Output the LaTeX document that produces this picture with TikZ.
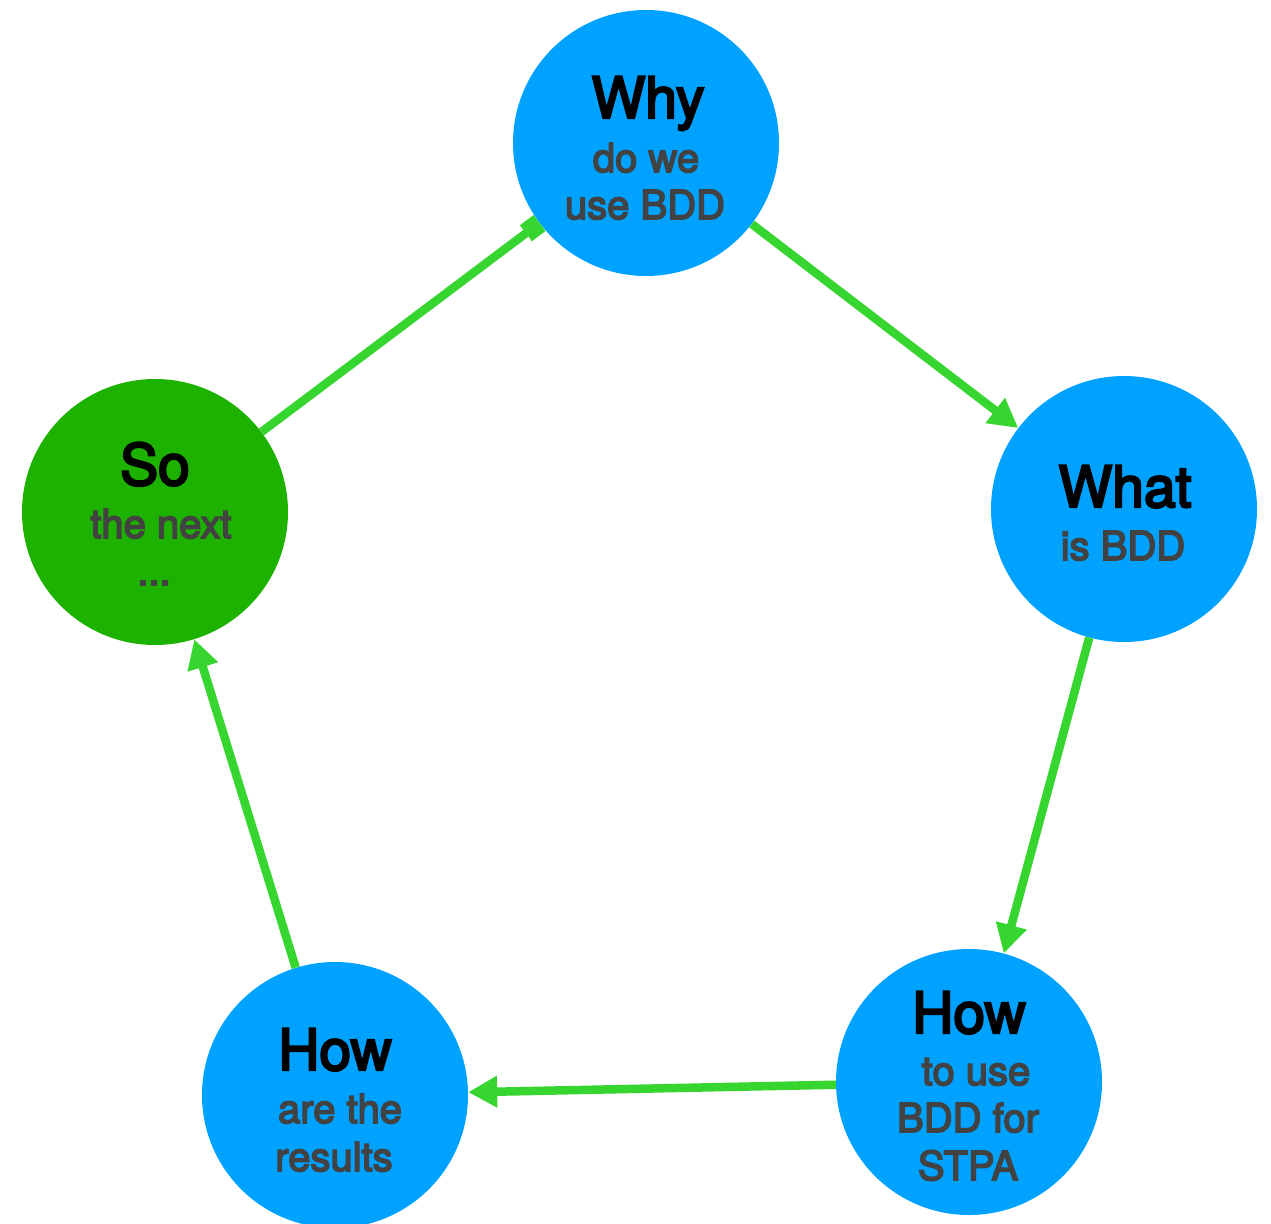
\documentclass[tikz,border=0pt]{standalone}
\usepackage{fontspec}
\setmainfont{TeX Gyre Heros}
\newfontfamily\titleface{TeX Gyre Heros}[FakeBold=4]
\newfontfamily\subface{TeX Gyre Heros}[FakeBold=4]
\usetikzlibrary{arrows.meta}
\definecolor{bubble}{HTML}{00A2FF}
\definecolor{nextgreen}{HTML}{1DB100}
\definecolor{linkgreen}{HTML}{36D52F}
\definecolor{subgray}{HTML}{424242}
\begin{document}
\begin{tikzpicture}[x=1pt,y=-1pt,
  topic/.style={circle, fill=bubble, minimum size=266pt, inner sep=0pt},
  title/.style={anchor=base, inner sep=0pt, text=black, font=\titleface\fontsize{57}{57}\selectfont},
  sub/.style={anchor=base, inner sep=0pt, text=subgray, font=\subface\fontsize{40}{40}\selectfont},
  link/.style={draw=linkgreen, line width=8.5pt, -{Triangle[length=29pt,width=30pt]}},
  backlink/.style={draw=linkgreen, line width=8.5pt, -{Square[length=17pt,width=20pt]}}]
\useasboundingbox (0,0) rectangle (1271,1223);

% topic circles
\node[topic] (why) at (646,143) {};
\node[topic] (what) at (1124,509) {};
\node[topic] (howuse) at (969,1082) {};
\node[topic] (howres) at (335,1095) {};
\node[topic, fill=nextgreen] (so) at (155,512) {};

% labels
\node[title] (whyT) at (648,118) {Why};
\node[sub] (whyA) at (646,172) {do we};
\node[sub] (whyB) at (645,219) {use BDD};

\node[title] (whatT) at (1125,507) {What};
\node[sub] (whatA) at (1123,560) {is BDD};

\node[title] (howuseT) at (969,1033) {How};
\node[sub] (howuseA) at (976,1085) {to use};
\node[sub] (howuseB) at (968,1132) {BDD for};
\node[sub] (howuseC) at (968,1180) {STPA};

\node[title] (howresT) at (335,1070) {How};
\node[sub] (howresA) at (340,1123) {are the};
\node[sub] (howresB) at (334,1171) {results};

\node[title] (soT) at (155,485) {So};
\node[sub] (soA) at (161,538) {the next};
\node[sub] (soB) at (154,585) {...};

% cycle of connectors
\draw[link] (why) -- (what);
\draw[link] (what) -- (howuse);
\draw[link] (howuse) -- (howres);
\draw[link] (howres) -- (so);
\draw[backlink] (so) -- (why);
\end{tikzpicture}
\end{document}
